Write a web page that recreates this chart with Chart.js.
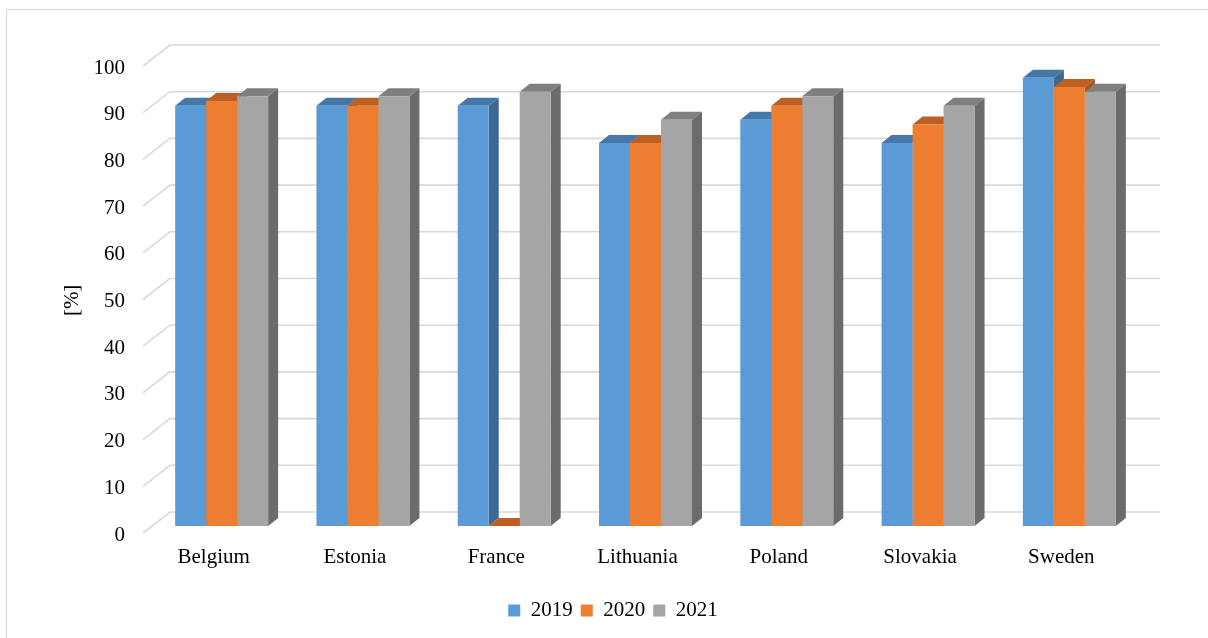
<!DOCTYPE html>
<html><head><meta charset="utf-8">
<script src="https://cdn.jsdelivr.net/npm/chart.js@4/dist/chart.umd.min.js"></script>
<style>html,body{margin:0;padding:0;background:#fff;overflow:hidden}#wrap{width:1208px;height:638px;position:relative}</style>
</head><body><div id="wrap"><canvas id="c"></canvas></div>
<script>
const categories = ['Belgium','Estonia','France','Lithuania','Poland','Slovakia','Sweden'];
const seriesNames = ['2019','2020','2021'];
const values2019 = [90, 90, 90, 82, 87, 82, 96];
const values2020 = [91, 90, 0, 82, 90, 86, 94];
const values2021 = [92, 92, 93, 87, 92, 90, 93];
const yTickValues = [0, 10, 20, 30, 40, 50, 60, 70, 80, 90, 100];

const FRONT = ['#5B9BD5', '#ED7D31', '#A5A5A5'];
const TOP = ['#4577A8', '#BD5F22', '#7F7F7F'];
const SIDE = ['#3D6891', '#A9541C', '#6B6B6B'];
const DX = 10, DY = -8;
const FONT = "'Liberation Serif', 'Times New Roman', serif";

function poly(ctx, pts, color) {
  ctx.beginPath();
  ctx.moveTo(pts[0][0], pts[0][1]);
  for (let i = 1; i < pts.length; i++) ctx.lineTo(pts[i][0], pts[i][1]);
  ctx.closePath();
  ctx.fillStyle = color;
  ctx.fill();
}

const threeD = {
  id: 'threeD',
  beforeDraw(chart) {
    const ctx = chart.ctx;
    ctx.save();
    ctx.strokeStyle = '#D9D9D9';
    ctx.lineWidth = 1;
    ctx.strokeRect(6.5, 9.5, 1400, 800);
    ctx.restore();
  },
  beforeDatasetsDraw(chart) {
    const ctx = chart.ctx, ys = chart.scales.y, a = chart.chartArea;
    ctx.save();
    ctx.strokeStyle = '#D9D9D9';
    ctx.lineWidth = 1.6;
    yTickValues.forEach(v => {
      const p = ys.getPixelForValue(v);
      ctx.beginPath();
      ctx.moveTo(a.left - 8, p + 7);
      ctx.lineTo(a.left + 19, p - 14);
      ctx.lineTo(a.right + 20, p - 14);
      ctx.stroke();
    });
    const metas = chart.data.datasets.map((d, i) => chart.getDatasetMeta(i));
    metas.forEach((m, i) => m.data.forEach(bar => {
      const xR = bar.x + bar.width / 2, y = bar.y, b = bar.base;
      poly(ctx, [[xR, y], [xR + DX, y + DY], [xR + DX, b + DY], [xR, b]], SIDE[i]);
    }));
    metas.forEach((m, i) => m.data.forEach(bar => {
      const xL = bar.x - bar.width / 2, xR = bar.x + bar.width / 2, y = bar.y;
      poly(ctx, [[xL, y], [xR, y], [xR + DX, y + DY], [xL + DX, y + DY]], TOP[i]);
    }));
    ctx.restore();
  }
};

const allValues = [values2019, values2020, values2021];
new Chart(document.getElementById('c'), {
  type: 'bar',
  data: {
    labels: categories,
    datasets: seriesNames.map((n, i) => ({
      label: n,
      data: allValues[i],
      backgroundColor: FRONT[i],
      borderWidth: 0,
      categoryPercentage: 0.658,
      barPercentage: 1.0
    }))
  },
  options: {
    responsive: true,
    maintainAspectRatio: false,
    animation: false,
    layout: { padding: { left: 18, right: 0, top: 59, bottom: 7 } },
    plugins: {
      tooltip: { enabled: false },
      legend: {
        position: 'bottom',
        labels: {
          boxWidth: 12, boxHeight: 12, padding: 8,
          color: '#000',
          font: { family: FONT, size: 21 }
        }
      }
    },
    scales: {
      x: {
        grid: { display: false, drawTicks: false },
        border: { display: false },
        ticks: { color: '#000', font: { family: FONT, size: 21 }, padding: 19, labelOffset: -8, maxRotation: 0 },
        afterFit(s) { s.height = 66; }
      },
      y: {
        min: 0, max: 100,
        grid: { display: false, drawTicks: false },
        border: { display: false },
        ticks: { stepSize: 10, color: '#000', font: { family: FONT, size: 21 }, padding: 26, labelOffset: 9 },
        title: { display: true, text: '[%]\u00A0\u00A0\u00A0', color: '#000', font: { family: FONT, size: 21 }, padding: { top: 42, bottom: 0 } },
        afterFit(s) { s.width = 133; }
      },
      y2: {
        position: 'right',
        display: true,
        min: 0, max: 100,
        grid: { display: false, drawTicks: false },
        border: { display: false },
        ticks: { display: false },
        afterFit(s) { s.width = 68; }
      }
    }
  },
  plugins: [threeD]
});
</script>
</body></html>
